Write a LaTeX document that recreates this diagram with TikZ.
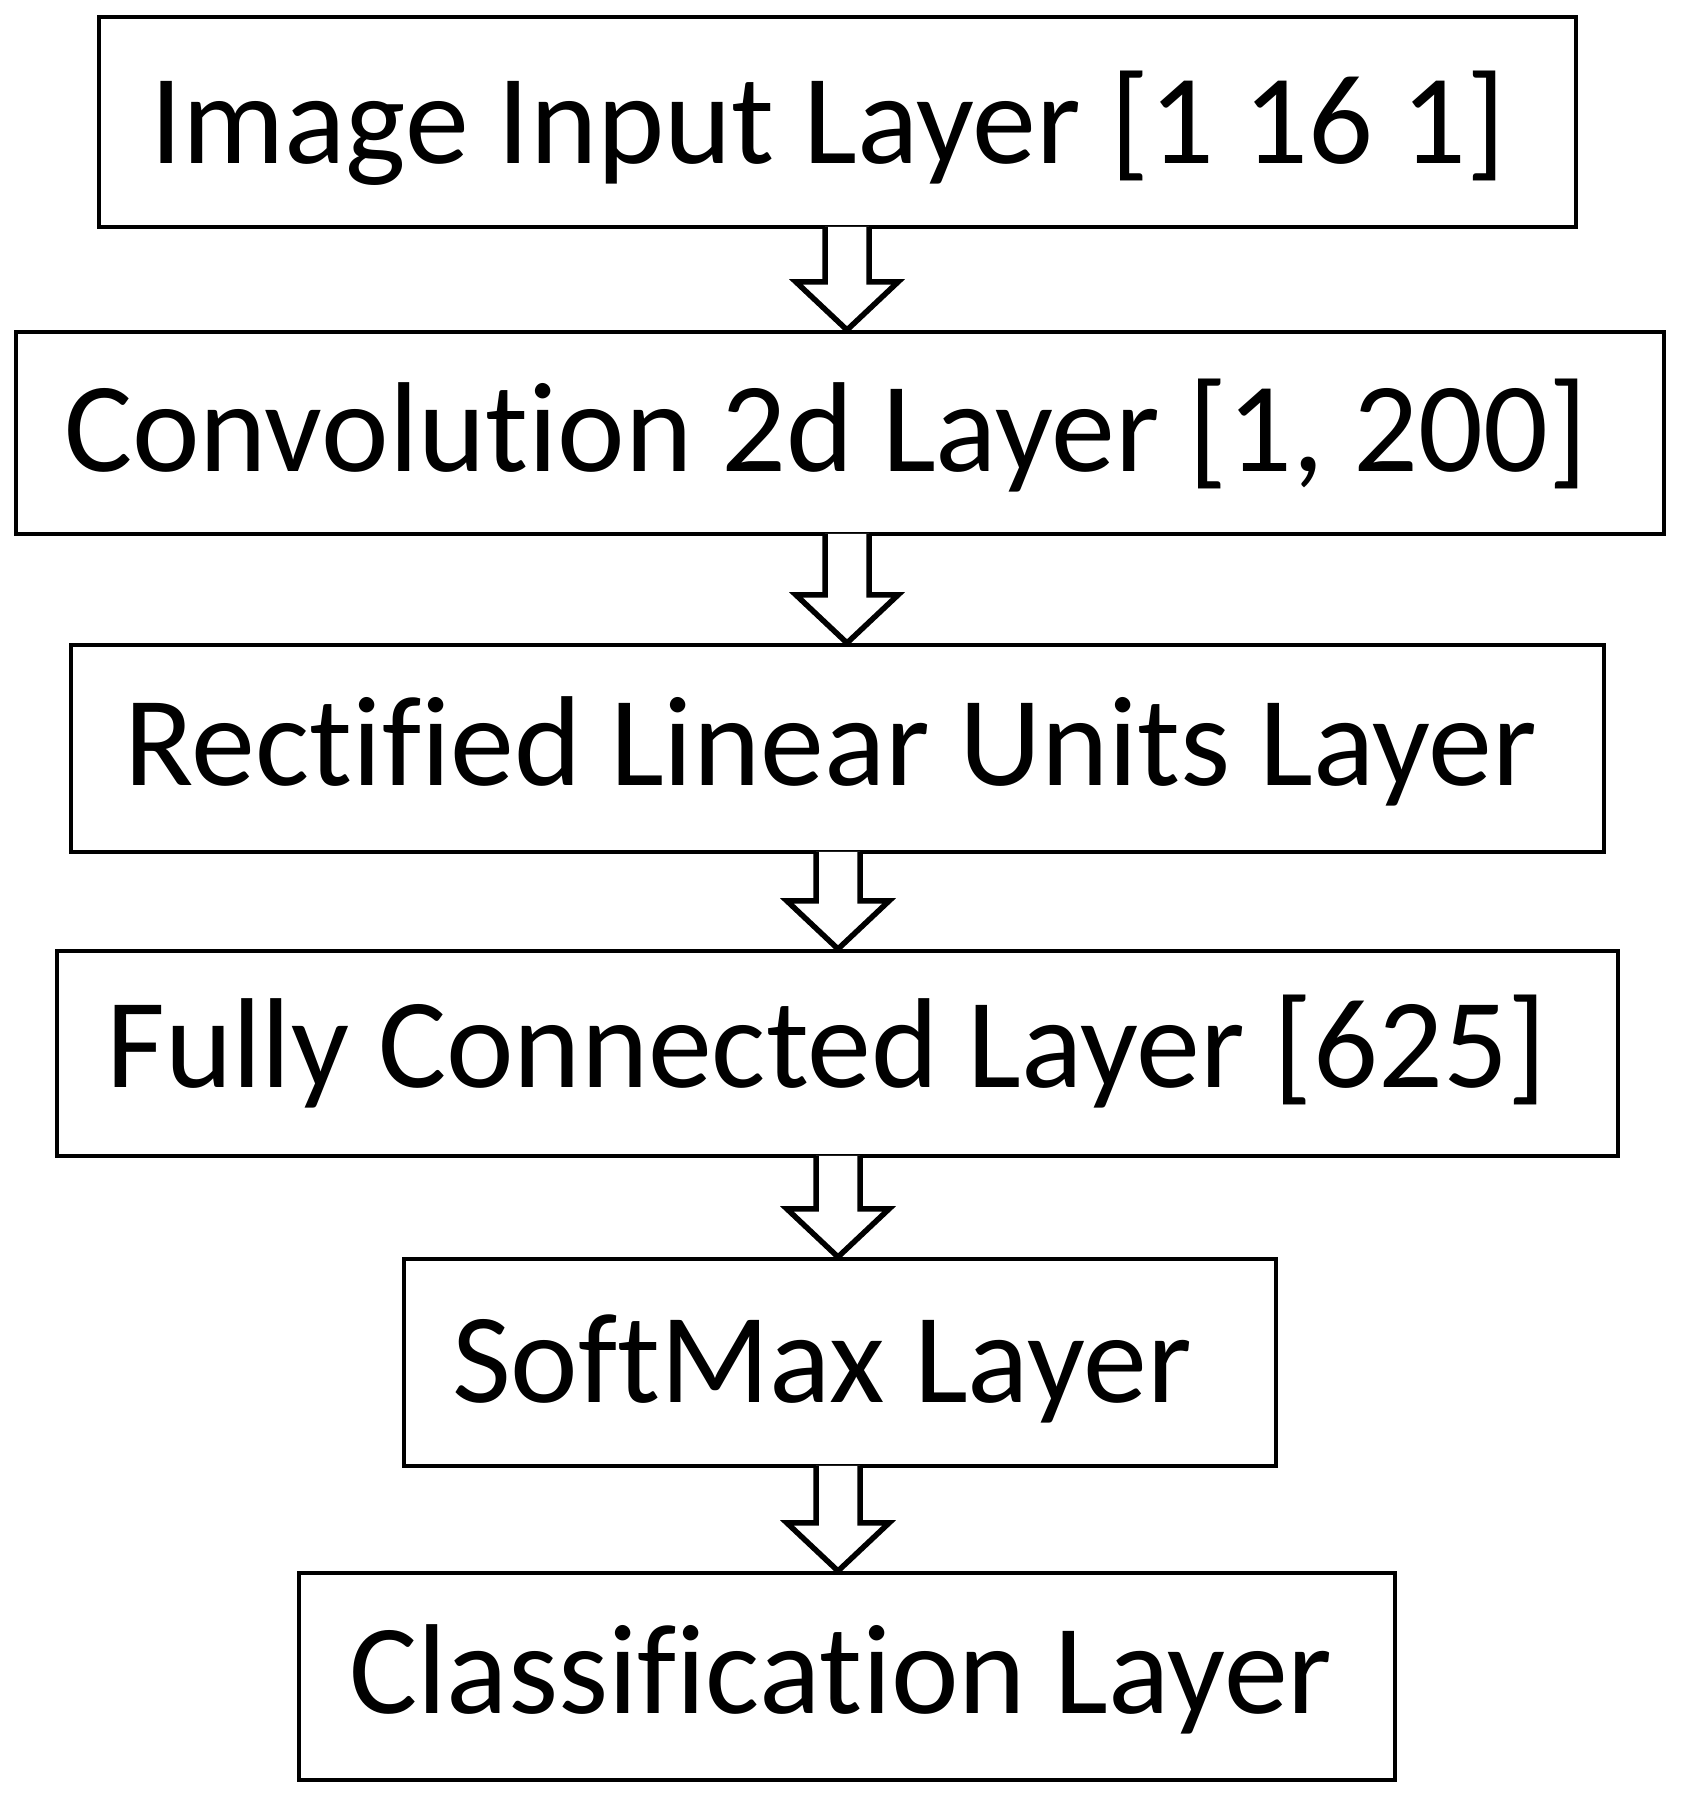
\documentclass[tikz,border=0pt]{standalone}
\usepackage{fontspec}
\setmainfont[Ligatures={NoCommon,NoRare,NoDiscretionary}]{Carlito}
\usetikzlibrary{calc}
\tikzset{
  box/.style={draw=black, line width=4pt, fill=white, rectangle, inner sep=0pt, outer sep=0pt},
  lbl/.style={anchor=base, inner sep=0pt, font=\fontsize{128}{128}\selectfont},
  barrow/.style={draw=black, line width=5.5pt, fill=white, line join=miter}
}
\newcommand\blockarrow[3]{%
  \draw[barrow] let \p1=(#1.south), \p2=(#2.north) in
    (#3pt-22pt,\y1) -- (#3pt-22pt,\y2+50pt) -- (#3pt-51pt,\y2+50pt) -- (#3pt,\y2+2pt)
    -- (#3pt+51pt,\y2+50pt) -- (#3pt+22pt,\y2+50pt) -- (#3pt+22pt,\y1);}
\begin{document}
\begin{tikzpicture}[x=1pt,y=1pt]
\useasboundingbox (0,0) rectangle (1682,1800);
\fill[white] (0,0) rectangle (1682,1800);
\node[box, minimum width=1477pt, minimum height=210pt] (b1) at (837.5,1678) {};
\node[box, minimum width=1648pt, minimum height=202pt] (b2) at (840,1367) {};
\node[box, minimum width=1533pt, minimum height=207pt] (b3) at (837.5,1051.5) {};
\node[box, minimum width=1561pt, minimum height=205pt] (b4) at (837.5,746.5) {};
\node[box, minimum width=872pt, minimum height=207pt] (b5) at (840,437.5) {};
\node[box, minimum width=1096pt, minimum height=207pt] (b6) at (847,123.5) {};
\node[lbl] (t1) at (828,1636) {Image Input Layer [1 16 1]};
\node[lbl] (t2) at (826,1328) {Convolution 2d Layer [1, 200]};
\node[lbl] (t3) at (831,1014) {Rectified Linear Units Layer};
\node[lbl] (t4) at (827,712) {Fully Connected Layer [625]};
\node[lbl] (t5) at (822,397) {SoftMax Layer};
\node[lbl] (t6) at (841,86) {Classification Layer};
\blockarrow{b1}{b2}{847}
\blockarrow{b2}{b3}{847}
\blockarrow{b3}{b4}{838}
\blockarrow{b4}{b5}{838}
\blockarrow{b5}{b6}{838}
\end{tikzpicture}
\end{document}
